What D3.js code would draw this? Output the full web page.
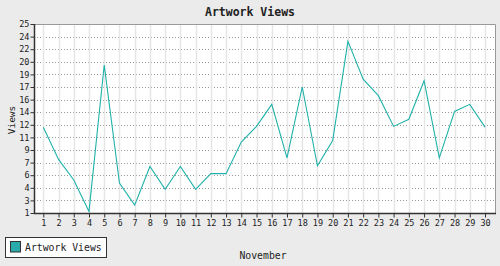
<!DOCTYPE html>
<html>
<head>
<meta charset="utf-8">
<script src="https://cdn.jsdelivr.net/npm/d3@7"></script>
<style>
  html, body { margin: 0; padding: 0; background: #ebebeb; }
  svg { display: block; }
  text { font-family: "DejaVu Sans Mono", "Liberation Mono", monospace; fill: #222; }
</style>
</head>
<body>
<svg id="chart"></svg>
<script>
const days = d3.range(1, 31)
const views = [11.9, 7.8, 5.2, 1.2, 19.8, 4.8, 2.0, 6.9, 4.0, 6.9,
               4.0, 6.0, 6.0, 10.0, 12.0, 14.8, 8.0, 17.0, 7.0, 10.2,
               22.8, 18.0, 15.9, 12.0, 12.9, 17.8, 8.0, 13.9, 14.8, 11.9]
const yTickLabels = ['1', '3', '4', '6', '7', '9', '11', '12', '14', '16', '17', '19', '20', '22', '24', '25']

const width = 500, height = 266
const frame = { left: 34, right: 495, top: 24, bottom: 213 }

const svg = d3.select('#chart').attr('width', width).attr('height', height)

const x = d3.scaleLinear().domain([1, 30]).range([43.3, 485])
const y = d3.scaleLinear().domain([1, 25]).range([frame.bottom, frame.top])

// evenly spaced y ticks, labels as printed on the original
const yStep = (25 - 1) / (yTickLabels.length - 1)
const yTicks = yTickLabels.map((d, i) => 1 + i * yStep)

// plot background
svg.append('rect')
  .attr('x', frame.left).attr('y', frame.top)
  .attr('width', frame.right - frame.left).attr('height', frame.bottom - frame.top)
  .attr('fill', '#fff')

// horizontal dotted grid
svg.append('g')
  .selectAll('line')
  .data(yTicks.slice(1, -1))
  .enter().append('line')
  .attr('x1', frame.left).attr('x2', frame.right)
  .attr('y1', d => Math.round(y(d)) + 0.5).attr('y2', d => Math.round(y(d)) + 0.5)
  .attr('stroke', '#999')
  .attr('stroke-dasharray', '1,2')

// vertical grid
svg.append('g')
  .selectAll('line')
  .data(days)
  .enter().append('line')
  .attr('x1', d => Math.round(x(d)) + 0.5).attr('x2', d => Math.round(x(d)) + 0.5)
  .attr('y1', frame.top).attr('y2', frame.bottom)
  .attr('stroke', '#e6e6e6')
  .attr('stroke-width', 1.5)

// frame: gray top/right, dark left/bottom
svg.append('path')
  .attr('d', `M${frame.left},${frame.top + 0.5}H${frame.right + 0.5}V${frame.bottom}`)
  .attr('fill', 'none').attr('stroke', '#999')

// axes
const xAxis = d3.axisBottom(x)
  .tickValues(days)
  .tickFormat(d3.format('d'))
  .tickSize(4)
  .tickPadding(2)
const yAxis = d3.axisLeft(y)
  .tickValues(yTicks)
  .tickFormat((d, i) => yTickLabels[i])
  .tickSize(4)
  .tickPadding(1)

const gx = svg.append('g')
  .attr('transform', `translate(0,${frame.bottom + 0.5})`)
  .call(xAxis)
gx.select('.domain').attr('d', `M${frame.left},0H${frame.right + 1}`)

const gy = svg.append('g')
  .attr('transform', `translate(${frame.left + 0.5},0)`)
  .call(yAxis)
gy.select('.domain').attr('d', `M0,${frame.top}V${frame.bottom + 1}`)

svg.selectAll('.tick line').attr('stroke', '#333')
svg.selectAll('.domain').attr('stroke', '#333').attr('stroke-width', 1.5)
svg.selectAll('.tick text')
  .style('font-family', '"DejaVu Sans Mono", monospace')
  .style('font-size', '8.5px')
  .attr('fill', '#222')

// series line
const line = d3.line()
  .x((d, i) => x(days[i]))
  .y(d => y(d))

svg.append('path')
  .datum(views)
  .attr('d', line)
  .attr('fill', 'none')
  .attr('stroke', '#20b2aa')
  .attr('stroke-width', 1.1)

// titles
svg.append('text')
  .attr('x', 250).attr('y', 16)
  .attr('text-anchor', 'middle')
  .style('font-size', '11.5px')
  .style('font-weight', 'bold')
  .text('Artwork Views')

svg.append('text')
  .attr('transform', `translate(15,120) rotate(-90)`)
  .attr('text-anchor', 'middle')
  .style('font-size', '9.5px')
  .text('Views')

svg.append('text')
  .attr('x', 263).attr('y', 259)
  .attr('text-anchor', 'middle')
  .style('font-size', '9.8px')
  .text('November')

// legend
const legend = svg.append('g')
legend.append('rect')
  .attr('x', 5.5).attr('y', 237.5).attr('width', 101).attr('height', 20)
  .attr('fill', '#fff').attr('stroke', '#333')
legend.append('rect')
  .attr('x', 10.5).attr('y', 241.5).attr('width', 10).attr('height', 10.5)
  .attr('fill', '#2aabab').attr('stroke', '#333')
legend.append('text')
  .attr('x', 25).attr('y', 251)
  .style('font-size', '9.8px')
  .text('Artwork Views')
</script>
</body>
</html>
